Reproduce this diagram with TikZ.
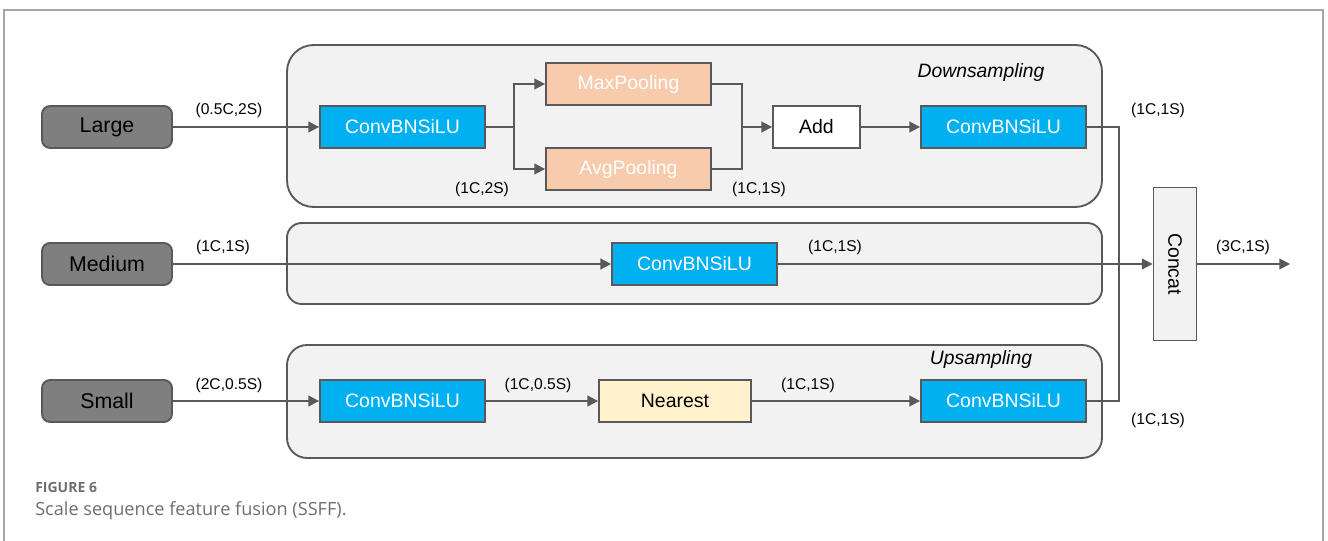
\documentclass[tikz,border=0pt]{standalone}
\usepackage{fontspec}
\setmainfont{Liberation Sans}
\newfontfamily\capfont{Open Sans}
\usetikzlibrary{arrows.meta}
\definecolor{lgray}{HTML}{F2F2F2}
\definecolor{dgray}{HTML}{595959}
\definecolor{boxgray}{HTML}{7F7F7F}
\definecolor{blue1}{HTML}{00B0F0}
\definecolor{peach}{HTML}{F8CBAD}
\definecolor{cream}{HTML}{FFF2CC}
\definecolor{frame}{HTML}{A6A6A6}
\definecolor{capgray}{HTML}{6E6E6E}
\def\pxu{0.75pt}
\tikzset{
  inbox/.style={draw=dgray, line width=1.4pt, rounded corners=6pt, fill=boxgray, text=black,
    minimum width=130*\pxu, minimum height=42*\pxu, inner sep=0pt, font=\fontsize{16}{18}\selectfont},
  convbox/.style={draw=dgray, line width=1.4pt, fill=blue1, text=white,
    minimum width=165*\pxu, minimum height=42*\pxu, inner sep=0pt, font=\fontsize{14.6}{17}\selectfont},
  poolbox/.style={draw=dgray, line width=1.4pt, fill=peach, text=white,
    minimum width=165*\pxu, minimum height=42*\pxu, inner sep=0pt, font=\fontsize{14.6}{17}\selectfont},
  group/.style={draw=dgray, line width=1.4pt, fill=lgray},
  conn/.style={draw=dgray, line width=1.4pt},
  arr/.style={conn, -{Triangle[length=8pt,width=8pt]}},
  lab/.style={font=\fontsize{11.7}{13}\selectfont, text=black, inner sep=0pt},
  ttl/.style={font=\fontsize{14.5}{17}\selectfont\itshape, text=black, inner sep=0pt}
}
\begin{document}
\begin{tikzpicture}[x=0.75pt,y=-0.75pt]
\useasboundingbox (0,0) rectangle (1328,541);
\draw[frame, line width=1.1pt] (4,560) -- (4,10) -- (1323,10) -- (1323,560);

% groups
\draw[group, rounded corners=20pt] (287,45) rectangle (1102,207);
\draw[group, rounded corners=11pt] (287,223) rectangle (1102,304);
\draw[group, rounded corners=15pt] (287,345) rectangle (1102,458);
\node[ttl] (tdown) at (981,73) {Downsampling};
\node[ttl] (tup) at (981,360) {Upsampling};

% inputs
\node[inbox] (large) at (107,127) {Large};
\node[inbox] (medium) at (107,264) {Medium};
\node[inbox] (small) at (107,401) {Small};

% top row
\node[convbox] (conv1) at (402.5,127) {ConvBNSiLU};
\node[poolbox] (maxp) at (628.5,84) {MaxPooling};
\node[poolbox] (avgp) at (628.5,169) {AvgPooling};
\node[draw=dgray, line width=1.4pt, fill=white, minimum width=87*\pxu, minimum height=42*\pxu,
  inner sep=0pt, font=\fontsize{14.6}{17}\selectfont] (add) at (816.5,127) {Add};
\node[convbox] (conv2) at (1003.5,127) {ConvBNSiLU};

% middle
\node[convbox] (conv4) at (694.5,264) {ConvBNSiLU};

% bottom
\node[convbox] (conv3) at (402.5,401) {ConvBNSiLU};
\node[draw=dgray, line width=1.4pt, fill=cream, minimum width=152*\pxu, minimum height=42*\pxu,
  inner sep=0pt, font=\fontsize{14.6}{17}\selectfont] (near) at (675,401) {Nearest};
\node[convbox] (conv5) at (1003.5,401) {ConvBNSiLU};

% concat
\node[draw=dgray, line width=1.4pt, fill=lgray, minimum width=43*\pxu, minimum height=153*\pxu,
  inner sep=0pt] (concat) at (1175,264) {};
\node[rotate=-90, font=\fontsize{14.6}{17}\selectfont, inner sep=0pt] (ctext) at (concat.center) {Concat};

\coordinate (s1) at (514,127);
\coordinate (m1) at (742,127);
\coordinate (j) at (1119,264);
\coordinate (out) at (1290,264);

% connectors
\draw[arr] (large) -- (conv1);
\draw[conn] (conv1.east) -- (s1);
\draw[arr] (s1) |- (maxp.west);
\draw[arr] (s1) |- (avgp.west);
\draw[conn] (maxp.east) -| (m1);
\draw[conn] (avgp.east) -| (m1);
\draw[arr] (m1) -- (add.west);
\draw[arr] (add) -- (conv2);
\draw[conn] (conv2.east) -| (j);
\draw[conn] (conv5.east) -| (j);
\draw[arr] (medium) -- (conv4);
\draw[arr] (conv4) -- (concat);
\draw[arr] (concat) -- (out);
\draw[arr] (small) -- (conv3);
\draw[arr] (conv3) -- (near);
\draw[arr] (near) -- (conv5);

% labels
\node[lab] (l1) at (229,110) {(0.5C,2S)};
\node[lab] (l2) at (482,189) {(1C,2S)};
\node[lab] (l3) at (759,189) {(1C,1S)};
\node[lab] (l4) at (1158,110) {(1C,1S)};
\node[lab] (l5) at (223,247) {(1C,1S)};
\node[lab] (l6) at (835,247) {(1C,1S)};
\node[lab] (l7) at (1243,247) {(3C,1S)};
\node[lab] (l8) at (229,385) {(2C,0.5S)};
\node[lab] (l9) at (538,385) {(1C,0.5S)};
\node[lab] (l10) at (808,385) {(1C,1S)};
\node[lab] (l11) at (1158,420) {(1C,1S)};

% caption
\node[anchor=base west, inner sep=0pt, text=capgray, font=\capfont\bfseries\fontsize{10.5}{12}\selectfont] (fig) at (35,493) {FIGURE 6};
\node[anchor=base west, inner sep=0pt, text=capgray, font=\capfont\fontsize{13.6}{16}\selectfont] (cap) at (35,515) {Scale sequence feature fusion (SSFF).};
\end{tikzpicture}
\end{document}
